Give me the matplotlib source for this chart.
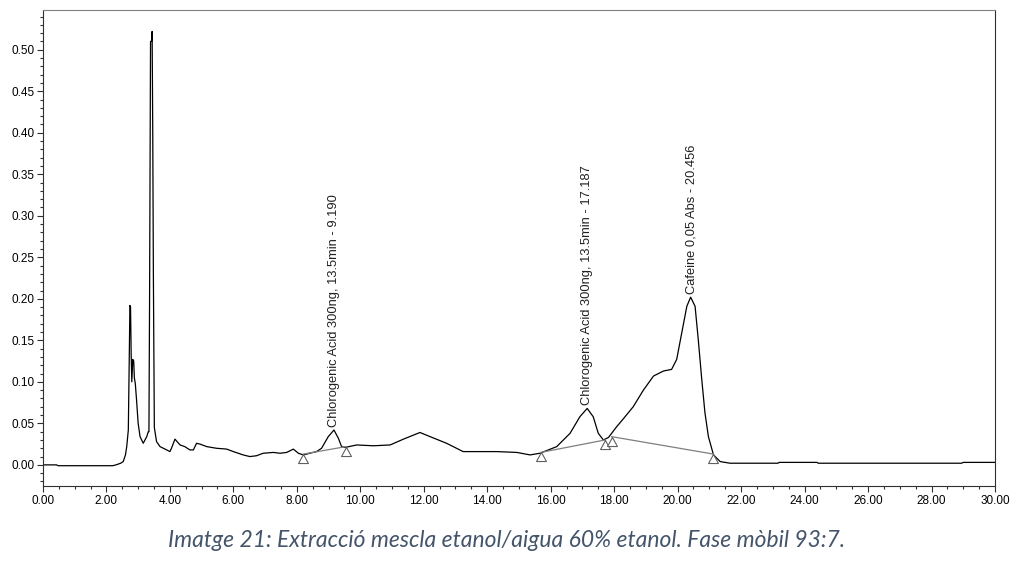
# -*- coding: utf-8 -*-
import numpy as np
import matplotlib
matplotlib.use('Agg')
import matplotlib.pyplot as plt
from matplotlib.ticker import MultipleLocator, FormatStrFormatter

# chromatogram trace (time in min, absorbance)
time_min = [0.00, 0.43, 0.48, 2.20, 2.30, 2.45, 2.53, 2.60, 2.64, 2.69,
            2.72, 2.74, 2.76, 2.78, 2.80, 2.83, 2.86, 2.88, 2.91, 2.95,
            3.00, 3.06, 3.16, 3.27, 3.32, 3.34, 3.36, 3.39, 3.42, 3.44,
            3.46, 3.48, 3.51, 3.58, 3.69, 3.90, 4.00, 4.05, 4.16, 4.32,
            4.47, 4.63, 4.74, 4.84, 4.95, 5.16, 5.47, 5.79, 6.00, 6.31,
            6.52, 6.73, 6.94, 7.26, 7.47, 7.68, 7.89, 8.05, 8.20, 8.62,
            8.78, 8.99, 9.17, 9.31, 9.41, 9.52, 9.89, 10.41, 10.94, 11.36,
            11.88, 12.20, 12.72, 13.24, 14.30, 14.93, 15.35, 15.66, 16.19, 16.61,
            16.92, 17.15, 17.34, 17.50, 17.66, 17.82, 18.08, 18.30, 18.60, 18.92,
            19.24, 19.55, 19.81, 19.97, 20.13, 20.29, 20.41, 20.55, 20.65, 20.76,
            20.86, 20.97, 21.13, 21.34, 21.65, 23.16, 23.20, 24.39, 24.43, 28.95,
            29.00, 30.00]
absorb = [0.000, 0.000, -0.001, -0.001, 0.000, 0.002, 0.004, 0.012, 0.022, 0.042,
          0.129, 0.192, 0.190, 0.133, 0.100, 0.127, 0.125, 0.105, 0.098, 0.078,
          0.050, 0.034, 0.026, 0.034, 0.040, 0.040, 0.200, 0.510, 0.510, 0.522,
          0.400, 0.228, 0.045, 0.028, 0.022, 0.018, 0.016, 0.020, 0.031, 0.024,
          0.022, 0.018, 0.018, 0.026, 0.025, 0.022, 0.020, 0.019, 0.016, 0.012,
          0.010, 0.011, 0.014, 0.015, 0.014, 0.015, 0.019, 0.014, 0.012, 0.016,
          0.020, 0.034, 0.042, 0.032, 0.022, 0.021, 0.024, 0.023, 0.024, 0.031,
          0.039, 0.034, 0.026, 0.016, 0.016, 0.015, 0.012, 0.014, 0.022, 0.038,
          0.058, 0.068, 0.058, 0.038, 0.030, 0.033, 0.046, 0.056, 0.070, 0.090,
          0.107, 0.113, 0.115, 0.127, 0.159, 0.191, 0.202, 0.191, 0.151, 0.103,
          0.063, 0.034, 0.012, 0.004, 0.002, 0.002, 0.003, 0.003, 0.002, 0.002,
          0.003, 0.003]

# integration baselines (start/end of each peak)
base_t = [[8.20, 9.55], [15.69, 17.71], [17.92, 21.13]]
base_a = [[0.013, 0.022], [0.015, 0.030], [0.034, 0.013]]

# peak labels
peak_t = [9.17, 17.15, 20.43]
peak_a = [0.042, 0.068, 0.202]
peak_names = ['Chlorogenic Acid 300ng, 13.5min - 9.190',
              'Chlorogenic Acid 300ng, 13.5min - 17.187',
              'Cafeine 0,05 Abs - 20.456']

caption = 'Imatge 21: Extracció mescla etanol/aigua 60% etanol. Fase mòbil 93:7.'

narrow = ['Liberation Sans Narrow', 'Liberation Sans', 'DejaVu Sans']

fig = plt.figure(figsize=(10.13, 5.65), dpi=100)
ax = fig.add_axes([0.0424, 0.139, 0.9398, 0.8435])

ax.plot(time_min, absorb, color='black', lw=0.9)

# triangle with its apex at the data point
tri = [(0, 0), (-0.55, -1), (0.55, -1), (0, 0)]
for bt, ba in zip(base_t, base_a):
    ax.plot(bt, ba, color='#7f7f7f', lw=0.9)
    ax.plot(bt, ba, ls='none', marker=tri, ms=13, mfc='white', mec='#606060', mew=0.8, zorder=3)

for pt, pa, name in zip(peak_t, peak_a, peak_names):
    ax.text(pt, pa + 0.004, name, rotation=90, ha='center', va='bottom',
            fontsize=9.3, family=narrow, color='#202020')

ax.set_xlim(0, 30)
ax.set_ylim(-0.026, 0.548)
ax.xaxis.set_major_locator(MultipleLocator(2))
ax.xaxis.set_minor_locator(MultipleLocator(0.5))
ax.yaxis.set_major_locator(MultipleLocator(0.05))
ax.yaxis.set_minor_locator(MultipleLocator(0.01))
ax.xaxis.set_major_formatter(FormatStrFormatter('%.2f'))
ax.yaxis.set_major_formatter(FormatStrFormatter('%.2f'))
ax.tick_params(which='major', length=4, width=0.8, color='#303030', pad=2)
ax.tick_params(which='minor', length=2.5, width=0.8, color='#303030')
for lab in ax.get_xticklabels():
    lab.set_family(narrow)
    lab.set_fontsize(8.5)
for lab in ax.get_yticklabels():
    lab.set_family(['Liberation Sans', 'DejaVu Sans'])
    lab.set_fontsize(8.5)
for side in ['left', 'bottom', 'right']:
    ax.spines[side].set_color('#303030')
ax.spines['top'].set_color('#808080')

fig.text(0.5, 0.044, caption, ha='center', va='center', style='italic',
         fontsize=16.5, family=['Lato', 'DejaVu Sans'], color='#44546A')

fig.savefig('out.png', dpi=100)
